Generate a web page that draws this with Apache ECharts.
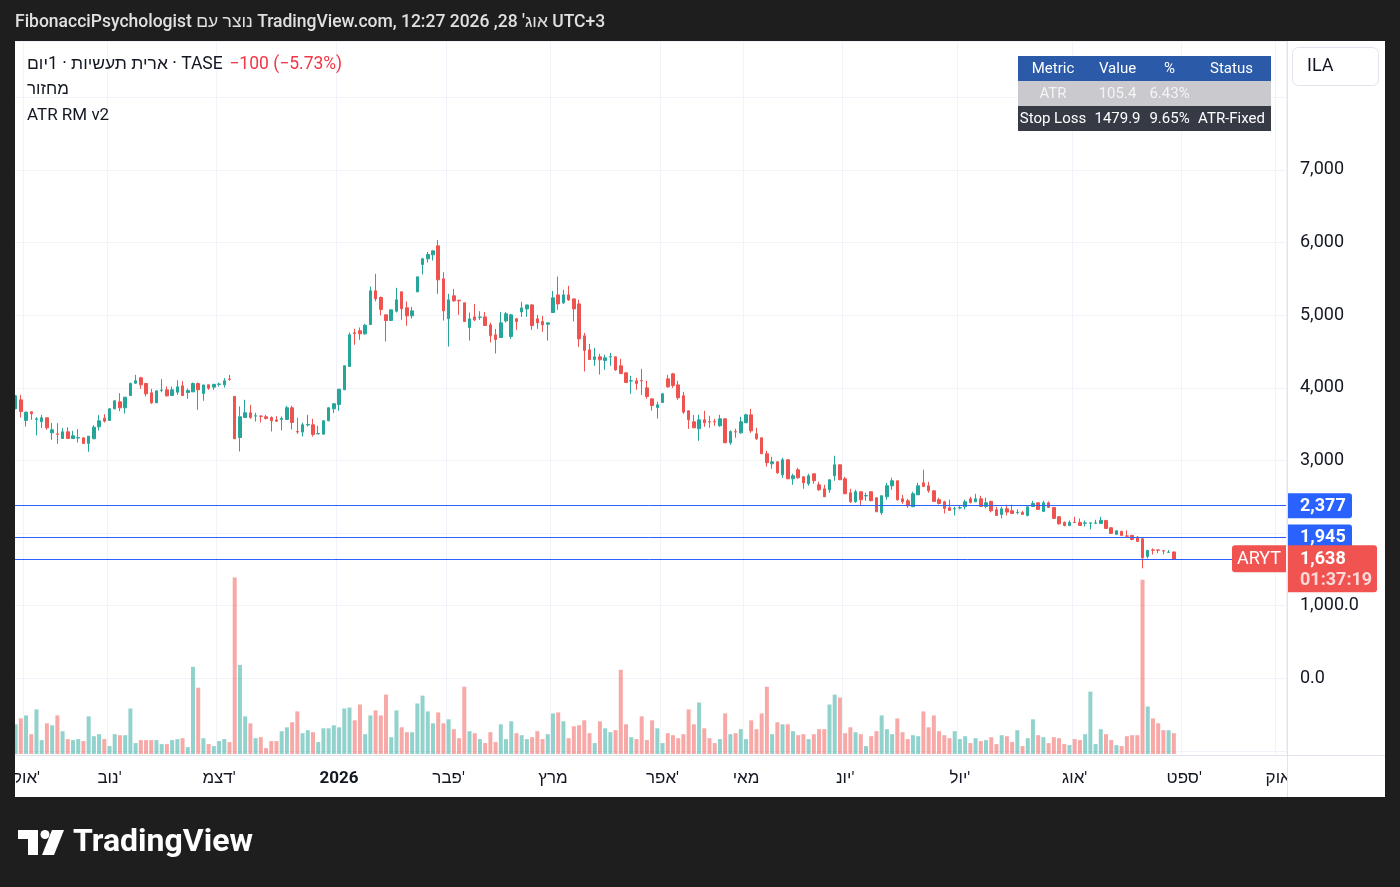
<!DOCTYPE html>
<html>
<head>
<meta charset="utf-8">
<script src="https://cdn.jsdelivr.net/npm/echarts@6/dist/echarts.min.js"></script>
<style>
    html, body { margin: 0; padding: 0; background: #1e1e1e; }
    #panel { position: absolute; left: 15px; top: 41px; width: 1370px; height: 756px; background: #ffffff; }
    #chart { position: absolute; left: 0; top: 0; width: 1400px; height: 887px; }
</style>
</head>
<body>
<div id="panel"></div>
<div id="chart"></div>
<script>
(function () {

    var FONT = 'Roboto, "Liberation Sans", sans-serif';
    var UP = '#26a69a';
    var DOWN = '#ef5350';
    var TEXT = '#131722';

    // daily candles (oct 2025 - aug 2026)
    var opens = [
        3710,3834,3550,3669,3564,3532,3587,3380,3365,3302,
        3394,3302,3309,3311,3234,3298,3463,3582,3550,3710,
        3807,3724,3894,4064,4137,4059,3931,3793,3965,3972,
        3894,3940,4027,3935,3944,4059,3922,4041,4009,4048,
        4041,4121,3881,3316,3592,3656,3610,3612,3601,3592,
        3559,3564,3564,3725,3397,3390,3489,3491,3365,3362,
        3546,3711,3770,3972,4293,4757,4784,4743,4871,5335,
        5243,5004,4926,5055,5321,5101,4991,5321,5697,5775,
        5830,5954,5500,4949,5266,5206,5169,4829,4976,4970,
        4976,4866,4729,4692,4921,4706,4949,5045,5086,5141,
        4949,4912,4875,5036,5279,5169,5279,5224,5155,4715,
        4522,4389,4426,4375,4424,4426,4302,4206,4094,4096,
        4098,3999,3848,3729,3797,4123,4192,4040,3890,3683,
        3532,3436,3559,3534,3534,3477,3573,3243,3396,3380,
        3518,3628,3367,3312,3092,2954,2981,2802,3009,2747,
        2871,2775,2679,2816,2665,2610,2596,2789,2940,2747,
        2555,2431,2569,2512,2569,2486,2280,2500,2651,2720,
        2472,2445,2362,2527,2692,2651,2582,2459,2431,2348,
        2332,2346,2362,2472,2431,2472,2367,2436,2321,2257,
        2335,2307,2282,2284,2243,2367,2417,2298,2417,2353,
        2225,2147,2105,2149,2147,2136,2136,2136,2133,2174,
        2073,1982,2023,1961,1968,1945,1922,1679,1768,1768,
        1757,1735,1740
    ];
    var highs = [
        3900,3903,3669,3672,3596,3628,3590,3513,3513,3444,
        3458,3408,3431,3314,3336,3486,3623,3637,3720,3825,
        3926,3873,4073,4178,4151,4062,3986,3960,4119,4018,
        4018,4105,4091,3990,4073,4073,4041,4043,4050,4073,
        4132,4178,3885,3743,3835,3766,3656,3614,3628,3605,
        3610,3605,3752,3752,3587,3518,3628,3573,3477,3550,
        3730,3789,3983,4305,4761,4812,4830,4880,5394,5569,
        5257,5006,5075,5376,5323,5188,5114,5530,5789,5871,
        5887,6036,5591,5293,5362,5208,5172,5036,5155,5054,
        5045,4898,4811,5045,5045,5018,4963,5183,5143,5155,
        5004,4990,4896,5334,5531,5348,5403,5226,5210,4756,
        4605,4550,4467,4453,4481,4428,4398,4210,4164,4137,
        4261,4096,3850,3807,3930,4178,4206,4096,3945,3685,
        3628,3628,3683,3614,3573,3628,3576,3413,3436,3601,
        3642,3711,3449,3315,3133,3050,2983,3036,3012,2816,
        2899,2777,2816,2818,2706,2665,2736,3064,2943,2775,
        2610,2596,2571,2555,2572,2489,2516,2692,2761,2722,
        2527,2472,2569,2692,2871,2706,2585,2486,2445,2459,
        2362,2376,2459,2500,2541,2514,2486,2445,2362,2362,
        2390,2390,2326,2307,2364,2445,2420,2445,2436,2356,
        2227,2160,2174,2225,2202,2174,2147,2183,2225,2176,
        2076,2035,2032,2037,1977,1959,1936,1763,1789,1775,
        1759,1766,1745
    ];
    var lows = [
        3705,3591,3467,3559,3344,3444,3422,3284,3229,3300,
        3298,3300,3247,3229,3119,3296,3412,3522,3548,3705,
        3678,3646,3892,4055,3986,3880,3779,3790,3940,3880,
        3892,3903,3892,3848,3942,3697,3821,3972,3972,4018,
        4004,4096,3295,3124,3590,3573,3537,3523,3564,3399,
        3527,3413,3562,3426,3367,3330,3468,3330,3363,3360,
        3540,3651,3683,3970,4291,4592,4660,4729,4869,5188,
        4995,4637,4925,5036,4936,4853,4954,5318,5559,5724,
        5752,5293,4926,4568,5183,5004,4905,4651,4921,4935,
        4855,4623,4472,4690,4898,4674,4797,4976,4976,4797,
        4811,4770,4651,5034,5073,5155,5196,4912,4563,4224,
        4387,4302,4183,4247,4302,4233,4194,4070,3917,3972,
        3903,3848,3687,3577,3795,3999,3999,3834,3642,3435,
        3447,3270,3463,3449,3477,3463,3240,3215,3312,3367,
        3516,3380,3284,3090,2913,2885,2816,2761,2745,2665,
        2747,2610,2651,2679,2582,2498,2555,2720,2730,2539,
        2417,2417,2376,2445,2442,2290,2252,2458,2596,2445,
        2403,2348,2360,2525,2640,2555,2433,2394,2270,2310,
        2243,2326,2326,2408,2429,2365,2339,2284,2241,2202,
        2243,2268,2257,2255,2229,2365,2323,2296,2348,2200,
        2115,2092,2103,2137,2103,2092,2050,2124,2131,2060,
        1992,1980,1966,1940,1899,1883,1514,1651,1706,1725,
        1706,1729,1636
    ];
    var closes = [
        3889,3674,3665,3642,3573,3587,3449,3422,3360,3394,
        3302,3339,3313,3234,3334,3458,3545,3541,3710,3821,
        3724,3871,4059,4096,4041,3917,3793,3958,3969,3889,
        3972,4013,3894,3963,4059,3972,4039,3995,4048,4052,
        4096,4117,3298,3601,3656,3592,3615,3608,3578,3546,
        3541,3578,3725,3523,3392,3491,3494,3358,3370,3546,
        3725,3780,3981,4303,4729,4747,4743,4862,5335,5224,
        5078,4926,5073,5211,5087,4991,5059,5527,5775,5835,
        5885,5486,5059,5211,5197,5197,4912,4949,4935,4974,
        4857,4719,4664,4894,5018,5004,4912,5100,5141,4857,
        4894,4866,4894,5238,5155,5279,5210,5086,4673,4513,
        4389,4426,4385,4412,4428,4247,4196,4073,4098,4059,
        4094,3880,3756,3765,3917,4013,4031,3862,3665,3559,
        3449,3559,3518,3530,3530,3573,3243,3399,3392,3532,
        3628,3408,3298,3092,2968,2981,2830,3009,2747,2789,
        2761,2692,2789,2720,2596,2500,2734,2940,2734,2541,
        2431,2569,2458,2516,2445,2293,2514,2651,2720,2458,
        2431,2376,2541,2651,2642,2582,2436,2408,2339,2312,
        2336,2350,2431,2422,2472,2367,2417,2307,2243,2335,
        2289,2270,2286,2257,2362,2408,2326,2417,2353,2202,
        2128,2105,2147,2145,2105,2140,2140,2140,2174,2064,
        1995,2032,1968,1957,1913,1885,1660,1761,1764,1764,
        1753,1738,1638
    ];
    // volume (thousands)
    var volumes = [
        297,356,386,198,446,139,307,287,386,228,
        149,139,149,129,376,178,198,149,79,198,
        188,188,455,109,139,139,139,139,99,99,
        139,149,158,69,871,663,158,99,79,129,
        149,119,1766,891,376,307,158,168,59,129,
        129,228,267,317,426,208,238,218,119,257,
        257,287,267,455,465,337,495,198,386,436,
        386,594,168,436,267,218,218,505,584,426,
        307,416,307,347,248,158,673,228,208,149,
        109,218,119,297,149,327,208,188,149,168,
        228,149,198,406,416,327,158,277,287,337,
        208,109,327,257,218,238,842,297,168,149,
        376,139,337,257,109,208,188,158,198,446,
        297,515,257,158,109,149,406,198,208,248,
        149,337,248,406,673,198,317,297,297,228,
        188,198,149,198,248,248,495,594,564,208,
        267,218,198,79,178,228,386,248,198,356,
        218,149,188,178,426,267,386,228,188,158,
        228,149,178,109,158,129,139,168,99,188,
        178,119,238,79,158,347,188,168,109,168,
        158,99,89,149,139,198,624,99,248,198,
        139,89,79,178,188,188,1742,475,356,307,
        238,238,208
    ];

    // time axis: bar index where each month starts
    var monthTicks = [2, 18, 39, 62, 83, 103, 124, 140, 159, 181, 203, 224, 242];
    var monthLabels = ["אוק'", "נוב'", "דצמ'", "2026", "פבר'", "מרץ", "אפר'", "מאי", "יונ'", "יול'", "אוג'", "ספט'", "אוק"];

    // price scale labels (2,000 is hidden behind the level tags)
    var priceTickValues = [7000, 6000, 5000, 4000, 3000, 1000, 0];
    var priceTickLabels = ['7,000', '6,000', '5,000', '4,000', '3,000', '1,000.0', '0.0'];

    var levelValues = [2377, 1945];
    var levelLabels = ['2,377', '1,945'];
    var lastPrice = 1638;
    var lastPriceLabel = '1,638';
    var countdown = '01:37:19';

    var tableHead = ['Metric', 'Value', '%', 'Status'];
    var tableAtr = ['ATR', '105.4', '6.43%', ''];
    var tableStop = ['Stop Loss', '1479.9', '9.65%', 'ATR-Fixed'];

    var SLOTS = 244;   // bars + empty space on the right
    var slots = [];
    for (var s = 0; s < SLOTS; s++) {
        slots.push(s);
    }

    var candles = [];
    var vols = [];
    for (var i = 0; i < closes.length; i++) {
        candles.push([opens[i], closes[i], lows[i], highs[i]]);
        vols.push({
            value: volumes[i],
            itemStyle: { color: closes[i] >= opens[i] ? 'rgba(38,166,154,0.5)' : 'rgba(239,83,80,0.5)' }
        });
    }

    function isMonthTick(idx) {
        return monthTicks.indexOf(idx) >= 0;
    }

    var chart = echarts.init(document.getElementById('chart'));

    var option = {
        backgroundColor: 'transparent',
        animation: false,
        textStyle: { fontFamily: FONT },
        grid: [
            { left: 13, right: 114, top: 41, bottom: 136 },
            { left: 13, right: 114, top: 41, bottom: 133 }
        ],
        xAxis: [
            { type: 'category', gridIndex: 0, data: slots, show: false },
            {
                type: 'category',
                gridIndex: 1,
                data: slots,
                axisLine: { show: false },
                axisTick: { show: false },
                axisLabel: {
                    interval: function (idx) { return isMonthTick(idx); },
                    formatter: function (value, idx) {
                        var k = monthTicks.indexOf(idx);
                        if (k < 0) return '';
                        if (monthLabels[k] === '2026') return '{b|2026}';
                        return monthLabels[k];
                    },
                    rich: { b: { fontWeight: 'bold', fontSize: 17, color: TEXT, fontFamily: FONT } },
                    margin: 16,
                    fontSize: 17,
                    color: TEXT,
                    fontFamily: FONT
                },
                splitLine: {
                    show: true,
                    interval: function (idx) { return isMonthTick(idx); },
                    lineStyle: { color: '#f0f3fa', width: 1 }
                }
            }
        ],
        yAxis: [
            {
                type: 'value',
                gridIndex: 0,
                position: 'right',
                min: -1000,
                max: 8774,
                interval: 1000,
                axisLine: { show: false },
                axisTick: { show: false },
                axisLabel: {
                    margin: 14,
                    fontSize: 18,
                    color: TEXT,
                    fontFamily: FONT,
                    padding: [3, 0, 0, 0],
                    formatter: function (v) {
                        var k = priceTickValues.indexOf(v);
                        return k < 0 ? '' : priceTickLabels[k];
                    }
                },
                splitLine: { lineStyle: { color: '#f0f3fa', width: 1 } }
            },
            { type: 'value', gridIndex: 1, min: 0, max: 7130, show: false, splitLine: { show: false } }
        ],
        series: [
            {
                name: 'volume',
                type: 'bar',
                xAxisIndex: 1,
                yAxisIndex: 1,
                data: vols,
                barWidth: 4,
                z: 1
            },
            {
                name: 'ARYT',
                type: 'candlestick',
                xAxisIndex: 0,
                yAxisIndex: 0,
                data: candles,
                barWidth: 3,
                z: 3,
                itemStyle: {
                    color: UP,
                    color0: DOWN,
                    borderColor: UP,
                    borderColor0: DOWN,
                    borderWidth: 1
                },
                markLine: {
                    silent: true,
                    symbol: ['none', 'none'],
                    label: { show: false },
                    lineStyle: { color: '#2962ff', width: 1, type: 'solid' },
                    data: [
                        { yAxis: levelValues[0] },
                        { yAxis: levelValues[1] },
                        { yAxis: lastPrice }
                    ]
                }
            }
        ]
    };

    chart.setOption(option);

    //
    function yPix(v) {
        return chart.convertToPixel({ yAxisIndex: 0 }, v);
    }

    function text(x, y, str, size, color, extra) {
        var st = {
            x: x, y: y, text: str,
            font: (extra && extra.weight ? extra.weight + ' ' : '') + size + 'px ' + FONT,
            fill: color,
            textAlign: (extra && extra.align) || 'left',
            verticalAlign: 'middle'
        };
        return { type: 'text', z: 120, style: st };
    }

    function box(x, y, w, h, fill, r, stroke) {
        return {
            type: 'rect', z: 110,
            shape: { x: x, y: y, width: w, height: h, r: r || 0 },
            style: { fill: fill, stroke: stroke || null, lineWidth: 1 }
        };
    }

    var g = [];

    // dark frame edge left of the panel (hides the clipped first bar and grid ends)
    g.push({ type: 'rect', z: 130, shape: { x: 0, y: 41, width: 15, height: 756 }, style: { fill: '#1e1e1e' } });

    // header on the dark frame
    g.push(text(15, 23, "FibonacciPsychologist נוצר עם TradingView.com, אוג' 28, 2026 12:27 UTC+3", 17.5, '#e0e0e0', { weight: 500 }));

    // legend
    g.push({
        type: 'text', z: 120,
        style: {
            x: 27, y: 65, verticalAlign: 'middle',
            text: '{a|ארית תעשיות · 1יום · TASE}  {b|−100 (−5.73%)}',
            rich: {
                a: { fill: TEXT, font: '17.5px ' + FONT },
                b: { fill: '#f23645', font: '17.5px ' + FONT }
            }
        }
    });
    g.push(text(27, 90, 'מחזור', 17, TEXT));
    g.push(text(27, 116, 'ATR RM v2', 17, TEXT));

    // ATR table
    var colX = [1018, 1088, 1147, 1192, 1271];
    var rowY = [56, 81, 106, 131];
    var rowFill = ['#2a5aa8', '#c9c9ce', '#363a45'];
    var rowColor = ['#ffffff', '#f4f4f6', '#ffffff'];
    var rows = [tableHead, tableAtr, tableStop];
    for (var r = 0; r < rows.length; r++) {
        g.push(box(colX[0], rowY[r], colX[4] - colX[0], rowY[r + 1] - rowY[r], rowFill[r]));
        for (var c = 0; c < 4; c++) {
            if (!rows[r][c]) continue;
            g.push(text((colX[c] + colX[c + 1]) / 2, (rowY[r] + rowY[r + 1]) / 2 + 0.5, rows[r][c], 15, rowColor[r], { align: 'center' }));
        }
    }

    // currency button
    g.push(box(1292.5, 47.5, 86, 38, '#ffffff', 6, '#e0e3eb'));
    g.push(text(1307, 66, 'ILA', 18, TEXT));

    // cover the time axis label that runs into the price scale
    g.push(box(1287.5, 756, 97, 40, '#ffffff'));

    // separators
    g.push({ type: 'line', z: 115, shape: { x1: 1287.5, y1: 41, x2: 1287.5, y2: 797 }, style: { stroke: '#e0e3eb', lineWidth: 1 } });
    g.push({ type: 'line', z: 115, shape: { x1: 15, y1: 755.5, x2: 1385, y2: 755.5 }, style: { stroke: '#e0e3eb', lineWidth: 1 } });

    // level tags on the price scale
    for (var l = 0; l < levelValues.length; l++) {
        var ly = yPix(levelValues[l]);
        g.push(box(1287, ly - 12.5, 65, 25, '#2962ff', [0, 3, 3, 0]));
        g.push(text(1300, ly + 0.5, levelLabels[l], 18, '#ffffff', { weight: 'bold' }));
    }

    // last price tag + symbol tag
    var py = yPix(lastPrice);
    g.push(box(1287, py - 14, 90, 47, '#f05350', [0, 3, 3, 0]));
    g.push(text(1300, py, lastPriceLabel, 18, '#ffffff', { weight: 'bold' }));
    g.push(text(1300, py + 21, countdown, 18, 'rgba(255,255,255,0.78)', { weight: 'bold' }));
    g.push(box(1232, py - 14, 54, 27, '#f05350', [3, 0, 0, 3]));
    g.push(text(1259, py, 'ARYT', 18, '#ffffff', { align: 'center' }));

    // TradingView logo
    g.push({ type: 'rect', z: 120, shape: { x: 18, y: 830, width: 20, height: 9 }, style: { fill: '#ffffff' } });
    g.push({ type: 'rect', z: 120, shape: { x: 28, y: 830, width: 10, height: 25 }, style: { fill: '#ffffff' } });
    g.push({ type: 'circle', z: 120, shape: { cx: 45, cy: 834.5, r: 4.5 }, style: { fill: '#ffffff' } });
    g.push({ type: 'polygon', z: 120, shape: { points: [[52, 830], [64, 830], [54, 855], [42, 855]] }, style: { fill: '#ffffff' } });
    g.push(text(73, 843, 'TradingView', 32, '#ffffff', { weight: 'bold' }));

    chart.setOption({ graphic: g });

}());
</script>
</body>
</html>
